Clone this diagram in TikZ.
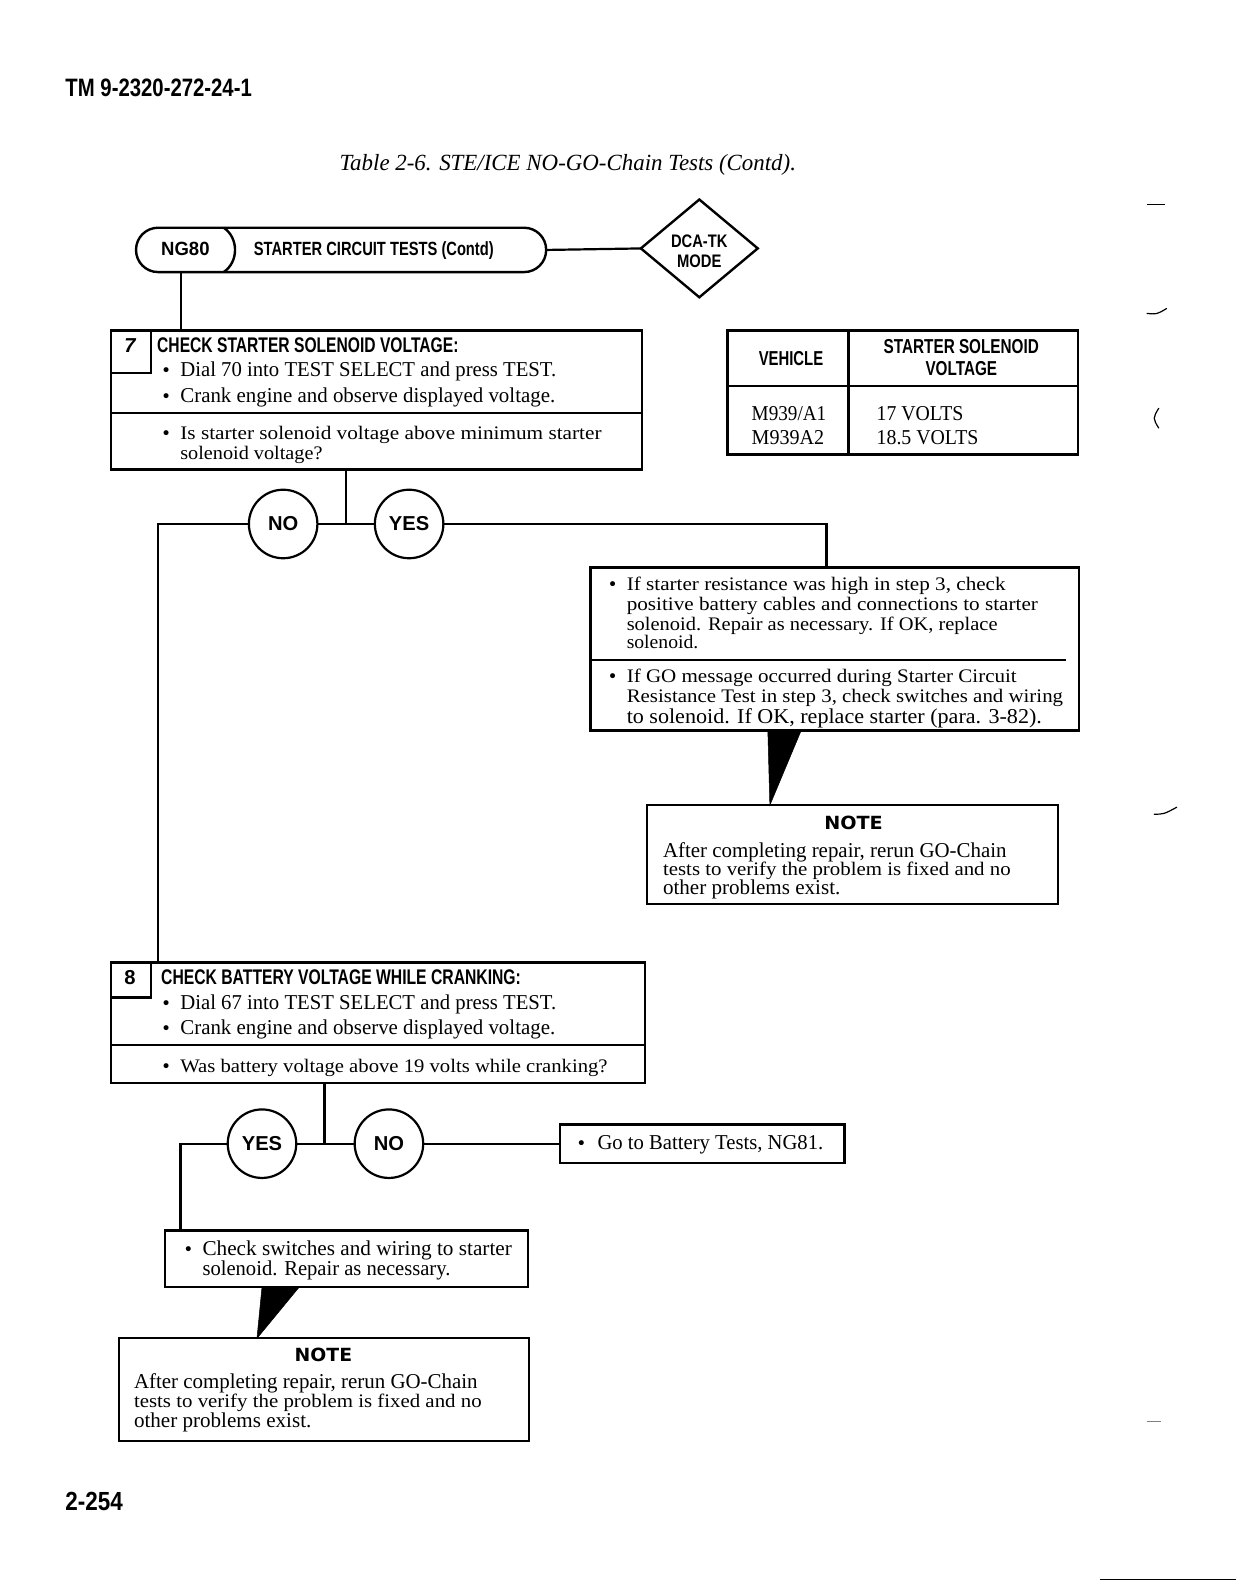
\documentclass[tikz,border=0pt]{standalone}
\usepackage{fontspec}
\usepackage{graphicx}
\setmainfont{Liberation Serif}
\newfontfamily\hf{Liberation Sans}
\newfontfamily\nf{DejaVu Sans}
\usetikzlibrary{shapes.geometric}
\newcommand\fw[2]{\resizebox{#1pt}{\height}{#2}}
\newcommand\bul[1]{\makebox[#1pt][l]{{\nf\fontsize{17}{17}\selectfont\textbullet}}}
\newcommand\HF[1]{\hf\bfseries\fontsize{#1}{#1}\selectfont}
\newcommand\SF{\fontsize{21}{24}\selectfont}
\newcommand\WF{\fontsize{19}{22}\selectfont}
\tikzset{
  box/.style={draw, rectangle, line width=2.4pt, anchor=north west, inner sep=0pt, outer sep=0pt},
  txt/.style={anchor=base west, inner sep=0pt, outer sep=0pt},
  ctxt/.style={anchor=base, inner sep=0pt, outer sep=0pt},
  ans/.style={draw, circle, line width=2.2pt, minimum size=68pt, inner sep=0pt, outer sep=0pt, font=\HF{20}},
  conn/.style={line width=2.2pt},
  wedge/.style={fill=black, draw=black, line width=0.5pt}
}
\begin{document}
\begin{tikzpicture}[x=1pt, y=-1pt, scale=1.0073, every node/.style={transform shape}]
\fill[white] (0,0) rectangle (1227,1568);
\useasboundingbox (0,0) rectangle (1227,1568);

% page header / footer
\node[txt] (tm) at (65,96) {\HF{25}\fw{185}{TM 9-2320-272-24-1}};
\node[txt] (title) at (337,169) {\itshape\fontsize{23}{26}\selectfont\fw{453}{Table 2-6. STE/ICE NO-GO-Chain Tests (Contd).}};
\node[txt] (pg) at (65,1499) {\HF{26}\fw{57}{2-254}};

% terminator
\node[draw, rounded corners=22pt, minimum width=407pt, minimum height=44pt, anchor=north west, inner sep=0pt, outer sep=0pt, line width=2.4pt] (pill) at (135,226) {};
\draw[line width=2.4pt] (222,226) .. controls (237,236) and (237,260) .. (222,270);
\node[txt] (ng) at (160,254) {\HF{19}\fw{48}{NG80}};
\node[txt] (sct) at (252,254) {\HF{19}\fw{238}{STARTER CIRCUIT TESTS (Contd)}};

% diamond
\node[draw, diamond, minimum width=116pt, minimum height=97pt, inner sep=0pt, outer sep=0pt, line width=2.4pt] (dia) at (694,246.5) {};
\node[ctxt] (dia1) at (694,246) {\HF{18}\fw{56}{DCA-TK}};
\node[ctxt] (dia2) at (694,265) {\HF{18}\fw{44}{MODE}};
\draw[conn] (pill.east) -- (dia.west);

% step 7
\node[box, minimum width=527pt, minimum height=138pt] (b7) at (110,328) {};
\draw[line width=2.4pt] (b7.west |- 0,410) -- (b7.east |- 0,410);
\draw[line width=2.2pt] (150,328) -- (150,370) -- (110,370);
\node[ctxt] (n7) at (129,350) {\HF{20}\itshape 7};
\node[txt] (h7) at (156,350) {\HF{21}\fw{299}{CHECK STARTER SOLENOID VOLTAGE:}};
\node[txt] (l71) at (160,374) {\SF\bul{19}\fw{373}{Dial 70 into TEST SELECT and press TEST.}};
\node[txt] (l72) at (160,399) {\SF\bul{19}\fw{372}{Crank engine and observe displayed voltage.}};
\node[txt] (l73) at (160,436) {\WF\bul{19}\fw{418}{Is starter solenoid voltage above minimum starter}};
\node[txt] (l74) at (179,456) {\WF\fw{141}{solenoid voltage?}};
\draw[conn] (pill.south -| 180,0) -- (b7.north -| 180,0);

% table
\node[box, minimum width=348pt, minimum height=123pt] (tbl) at (722,328) {};
\draw[line width=2.4pt] (tbl.west |- 0,383) -- (tbl.east |- 0,383);
\draw[line width=2.4pt] (tbl.north -| 842,0) -- (tbl.south -| 842,0);
\node[txt] (th1) at (753,363) {\HF{20}\fw{64}{VEHICLE}};
\node[ctxt] (th2) at (954,351) {\HF{20}\fw{154}{STARTER SOLENOID}};
\node[ctxt] (th3) at (954,373) {\HF{20}\fw{71}{VOLTAGE}};
\node[txt] (tr1) at (746,417) {\SF\fw{74}{M939/A1}};
\node[txt] (tr2) at (746,441) {\SF\fw{72}{M939A2}};
\node[txt] (tr3) at (870,417) {\SF\fw{86}{17 VOLTS}};
\node[txt] (tr4) at (870,441) {\SF\fw{101}{18.5 VOLTS}};

% decision 7
\coordinate (j1) at (343,520);
\coordinate (c1) at (157,520);
\coordinate (c2) at (820,520);
\node[ans] (no1) at (281,520) {NO};
\node[ans] (yes1) at (406,520) {YES};
\draw[conn] (b7.south -| j1) -- (j1);
\draw[conn] (no1.east) -- (yes1.west);

% yes box (step 7)
\node[box, minimum width=485pt, minimum height=162pt] (ybox) at (586,563) {};
\draw[line width=2.2pt] (ybox.west |- 0,655) -- (1058,655);
\node[txt] (y1) at (603,586) {\WF\bul{19}\fw{376}{If starter resistance was high in step 3, check}};
\node[txt] (y2) at (622,606) {\WF\fw{408}{positive battery cables and connections to starter}};
\node[txt] (y3) at (622,626) {\WF\fw{368}{solenoid. Repair as necessary. If OK, replace}};
\node[txt] (y4) at (622,644) {\WF\fw{71}{solenoid.}};
\node[txt] (y5) at (603,677) {\WF\bul{19}\fw{387}{If GO message occurred during Starter Circuit}};
\node[txt] (y6) at (622,697) {\WF\fw{433}{Resistance Test in step 3, check switches and wiring}};
\node[txt] (y7) at (622,718) {\SF\fw{412}{to solenoid. If OK, replace starter (para. 3-82).}};
\draw[conn] (yes1.east) -- (c2) -- (ybox.north -| c2);

% note 1
\node[box, minimum width=408pt, minimum height=98pt] (note1) at (642,799) {};
\node[ctxt] (nt1) at (847,823) {\nf\bfseries\fontsize{18}{18}\selectfont\fw{58}{NOTE}};
\node[txt] (nt11) at (658,851) {\SF\fw{341}{After completing repair, rerun GO-Chain}};
\node[txt] (nt12) at (658,869) {\WF\fw{345}{tests to verify the problem is fixed and no}};
\node[txt] (nt13) at (658,888) {\SF\fw{176}{other problems exist.}};
\fill[wedge] (ybox.south -| 762,0) -- (ybox.south -| 795,0) -- (note1.north -| 764,0) -- cycle;

% step 8
\node[box, minimum width=530pt, minimum height=120pt] (b8) at (110,955) {};
\draw[line width=2.4pt] (b8.west |- 0,1037) -- (b8.east |- 0,1037);
\draw[line width=2.2pt] (150,955) -- (150,990) -- (110,990);
\node[ctxt] (n8) at (129,977) {\HF{20}8};
\node[txt] (h8) at (160,977) {\HF{21}\fw{357}{CHECK BATTERY VOLTAGE WHILE CRANKING:}};
\node[txt] (l81) at (160,1002) {\SF\bul{19}\fw{373}{Dial 67 into TEST SELECT and press TEST.}};
\node[txt] (l82) at (160,1027) {\SF\bul{19}\fw{372}{Crank engine and observe displayed voltage.}};
\node[txt] (l83) at (160,1064) {\WF\bul{19}\fw{424}{Was battery voltage above 19 volts while cranking?}};
\draw[conn] (no1.west) -- (c1) -- (b8.north -| c1);

% decision 8
\coordinate (j2) at (322,1135);
\coordinate (c3) at (179,1135);
\node[ans] (yes2) at (260,1135) {YES};
\node[ans] (no2) at (386,1135) {NO};
\draw[conn] (b8.south -| j2) -- (j2);
\draw[conn] (yes2.east) -- (no2.west);

\node[box, minimum width=282pt, minimum height=38pt] (goto) at (556,1116) {};
\node[txt] (gt) at (572,1141) {\SF\bul{21}\fw{224}{Go to Battery Tests, NG81.}};
\draw[conn] (no2.east) -- (goto.west);

\node[box, minimum width=360pt, minimum height=56pt] (chk) at (164,1221) {};
\node[txt] (ck1) at (182,1246) {\SF\bul{19}\fw{307}{Check switches and wiring to starter}};
\node[txt] (ck2) at (201,1266) {\SF\fw{246}{solenoid. Repair as necessary.}};
\draw[conn] (yes2.west) -- (c3) -- (chk.north -| c3);

% note 2
\node[box, minimum width=407pt, minimum height=102pt] (note2) at (118,1328) {};
\node[ctxt] (nt2) at (321,1351) {\nf\bfseries\fontsize{18}{18}\selectfont\fw{57}{NOTE}};
\node[txt] (nt21) at (133,1378) {\SF\fw{341}{After completing repair, rerun GO-Chain}};
\node[txt] (nt22) at (133,1397) {\WF\fw{345}{tests to verify the problem is fixed and no}};
\node[txt] (nt23) at (133,1417) {\SF\fw{176}{other problems exist.}};
\fill[wedge] (chk.south -| 260,0) -- (chk.south -| 297,0) -- (note2.north -| 255,0) -- cycle;

% scanner marks at the margin
\draw[line width=1pt] (1138,203) -- (1156,203);
\draw[line width=1.2pt] (1138,311) .. controls (1148,312) .. (1158,306);
\draw[line width=1.2pt] (1150,405) .. controls (1144,415) .. (1150,425);
\draw[line width=1.2pt] (1145,808) .. controls (1155,808) .. (1168,801);
\draw[line width=0.6pt, gray] (1138,1410) -- (1152,1410);
\draw[line width=1pt] (1092,1567) -- (1227,1567);
\end{tikzpicture}
\end{document}
